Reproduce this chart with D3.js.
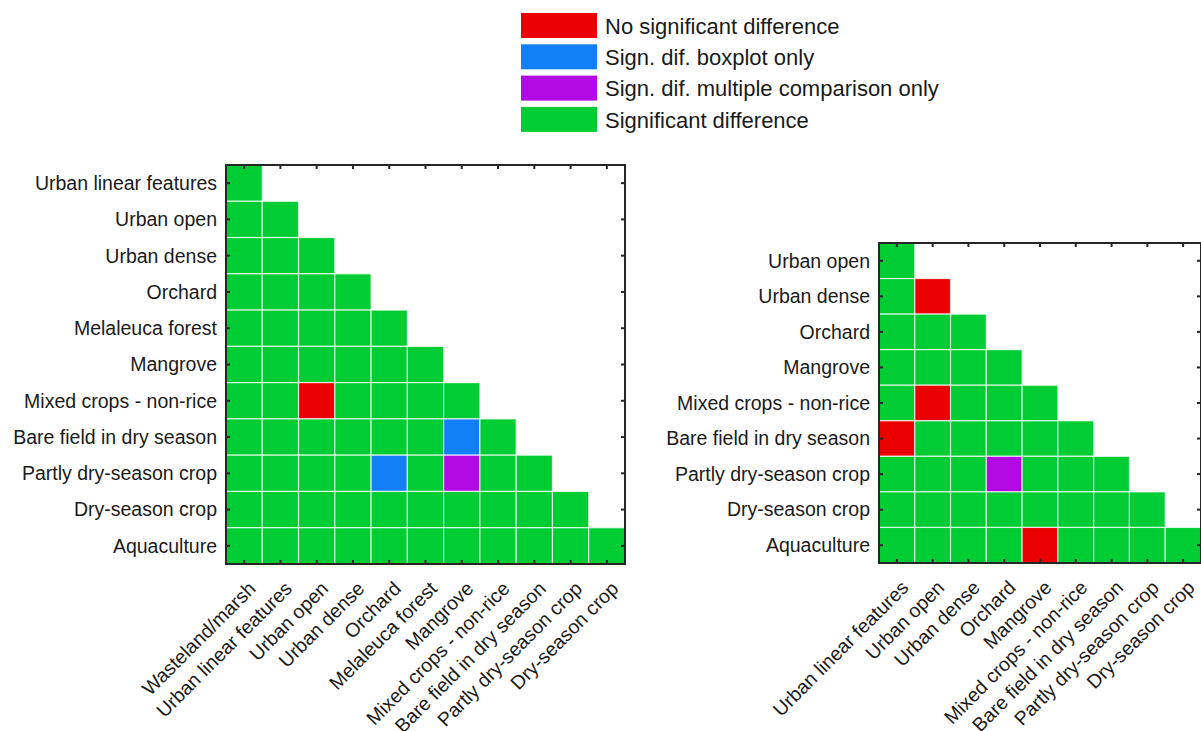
<!DOCTYPE html>
<html>
<head>
<meta charset="utf-8">
<script src="https://cdn.jsdelivr.net/npm/d3@7"></script>
<style>
  html, body { margin: 0; padding: 0; background: #fff; }
  svg { display: block; font-family: "Liberation Sans", Arial, Helvetica, sans-serif; }
</style>
</head>
<body>
<svg id="chart" width="1201" height="731"></svg>
<script>
// Outcome classes of the pairwise comparison
const classLabels = [
  "No significant difference",
  "Sign. dif. boxplot only",
  "Sign. dif. multiple comparison only",
  "Significant difference"
];
const classColors = ["#eb0000", "#127ef8", "#b20ae2", "#00cc33"];

// Left matrix: rows vs. columns (lower triangle, code = index in classLabels)
const leftRows = [
  "Urban linear features", "Urban open", "Urban dense", "Orchard",
  "Melaleuca forest", "Mangrove", "Mixed crops - non-rice",
  "Bare field in dry season", "Partly dry-season crop", "Dry-season crop",
  "Aquaculture"
];
const leftCols = [
  "Wasteland/marsh", "Urban linear features", "Urban open", "Urban dense",
  "Orchard", "Melaleuca forest", "Mangrove", "Mixed crops - non-rice",
  "Bare field in dry season", "Partly dry-season crop", "Dry-season crop"
];
const leftCodes = [
  [3],
  [3, 3],
  [3, 3, 3],
  [3, 3, 3, 3],
  [3, 3, 3, 3, 3],
  [3, 3, 3, 3, 3, 3],
  [3, 3, 0, 3, 3, 3, 3],
  [3, 3, 3, 3, 3, 3, 1, 3],
  [3, 3, 3, 3, 1, 3, 2, 3, 3],
  [3, 3, 3, 3, 3, 3, 3, 3, 3, 3],
  [3, 3, 3, 3, 3, 3, 3, 3, 3, 3, 3]
];

// Right matrix
const rightRows = [
  "Urban open", "Urban dense", "Orchard", "Mangrove",
  "Mixed crops - non-rice", "Bare field in dry season",
  "Partly dry-season crop", "Dry-season crop", "Aquaculture"
];
const rightCols = [
  "Urban linear features", "Urban open", "Urban dense", "Orchard",
  "Mangrove", "Mixed crops - non-rice", "Bare field in dry season",
  "Partly dry-season crop", "Dry-season crop"
];
const rightCodes = [
  [3],
  [3, 0],
  [3, 3, 3],
  [3, 3, 3, 3],
  [3, 0, 3, 3, 3],
  [0, 3, 3, 3, 3, 3],
  [3, 3, 3, 2, 3, 3, 3],
  [3, 3, 3, 3, 3, 3, 3, 3],
  [3, 3, 3, 3, 0, 3, 3, 3, 3]
];

const svg = d3.select("#chart");
const color = d3.scaleOrdinal().domain(d3.range(classLabels.length)).range(classColors);
const frameColor = "#262626";
const textColor = "#1a1a1a";
const labelSize = 19.5;

// Legend
const legend = svg.append("g").attr("transform", "translate(521,13)");
const legendItems = legend.selectAll("g")
  .data(classLabels)
  .join("g")
  .attr("transform", (d, i) => `translate(0,${i * 31.3})`);
legendItems.append("rect")
  .attr("width", 76).attr("height", 25)
  .attr("fill", (d, i) => color(i));
legendItems.append("text")
  .attr("x", 84).attr("y", 13)
  .attr("dy", "0.35em")
  .attr("font-size", 22)
  .attr("fill", textColor)
  .text(d => d);

function drawMatrix(rows, cols, codes, left, top, w, h) {
  const g = svg.append("g").attr("transform", `translate(${left},${top})`);
  const x = d3.scaleBand().domain(cols).range([0, w]);
  const y = d3.scaleBand().domain(rows).range([0, h]);

  const cells = [];
  codes.forEach((row, ri) => row.forEach((c, ci) => {
    cells.push({ row: rows[ri], col: cols[ci], code: c });
  }));

  g.append("g").selectAll("rect")
    .data(cells)
    .join("rect")
    .attr("x", d => x(d.col))
    .attr("y", d => y(d.row))
    .attr("width", x.bandwidth())
    .attr("height", y.bandwidth())
    .attr("fill", d => color(d.code))
    .attr("stroke", "rgba(255,255,255,0.75)")
    .attr("stroke-width", 1.2);

  const tickLen = 4;
  const axisStyle = sel => {
    sel.select(".domain").remove();
    sel.selectAll(".tick line").attr("stroke", frameColor).attr("stroke-width", 2);
  };

  // Inward ticks on all four sides
  g.append("g").call(d3.axisLeft(y).tickSize(-tickLen).tickFormat(""))
    .call(axisStyle);
  g.append("g").attr("transform", `translate(${w},0)`)
    .call(d3.axisRight(y).tickSize(-tickLen).tickFormat(""))
    .call(axisStyle);
  g.append("g").call(d3.axisTop(x).tickSize(-tickLen).tickFormat(""))
    .call(axisStyle);
  g.append("g").attr("transform", `translate(0,${h})`)
    .call(d3.axisBottom(x).tickSize(-tickLen).tickFormat(""))
    .call(axisStyle);

  g.append("rect")
    .attr("width", w).attr("height", h)
    .attr("fill", "none")
    .attr("stroke", frameColor)
    .attr("stroke-width", 2);

  // Row labels
  g.append("g").selectAll("text")
    .data(rows)
    .join("text")
    .attr("x", -9)
    .attr("y", d => y(d) + y.bandwidth() / 2)
    .attr("dy", "0.35em")
    .attr("text-anchor", "end")
    .attr("font-size", labelSize)
    .attr("fill", textColor)
    .text(d => d);

  // Column labels, rotated
  g.append("g").selectAll("text")
    .data(cols)
    .join("text")
    .attr("transform", d => `translate(${x(d) + x.bandwidth() / 2 + 8},${h + 21}) rotate(-45)`)
    .attr("text-anchor", "end")
    .attr("dy", "0.35em")
    .attr("font-size", labelSize)
    .attr("fill", textColor)
    .text(d => d);
}

drawMatrix(leftRows, leftCols, leftCodes, 226, 165, 399, 399);
drawMatrix(rightRows, rightCols, rightCodes, 879, 243, 322, 320);
</script>
</body>
</html>
